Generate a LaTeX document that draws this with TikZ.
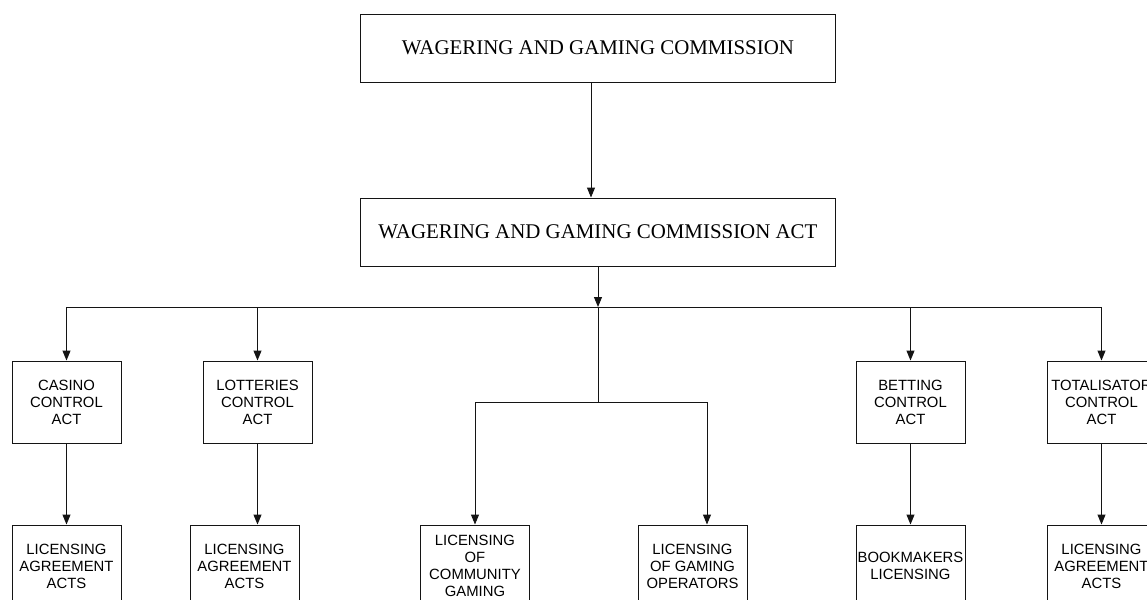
\documentclass[tikz,border=0pt]{standalone}
\usepackage{fontspec}
\setmainfont{Liberation Serif}
\newfontfamily\arialfont{Liberation Sans}
\usepackage{tikz}
\usetikzlibrary{arrows.meta, positioning, calc}
\definecolor{edge}{RGB}{20,20,20}
\tikzset{
  head/.style={rectangle, draw=edge, line width=0.55pt, fill=white,
               minimum width=9.52cm, minimum height=1.36cm, align=center,
               font=\fontsize{11.9}{14}\selectfont},
  act/.style={rectangle, draw=edge, line width=0.55pt, fill=white,
              minimum width=2.18cm, minimum height=1.64cm, inner sep=0pt, align=center,
              font=\arialfont\fontsize{8.45}{9.7}\selectfont},
  arr/.style={-{Triangle[length=0.2cm, width=0.16cm]}, line width=0.55pt, draw=edge},
  bus/.style={line width=0.55pt, draw=edge},
}

\begin{document}
\begin{tikzpicture}[x=0.02cm, y=-0.02cm]
\useasboundingbox (0,0) rectangle (1147,599);
\clip (0,0) rectangle (1147,599);

% Commission and act
\node[head] (comm) at (598,48) {WAGERING AND GAMING COMMISSION};
\node[head] (wgact) at (598,232) {WAGERING AND GAMING COMMISSION ACT};

% Control acts
\node[act] (casino) at (66.5,402) {CASINO\\ CONTROL\\ ACT};
\node[act] (lotto) at (257.5,402) {LOTTERIES\\ CONTROL\\ ACT};
\node[act] (betting) at (910.5,402) {BETTING\\ CONTROL\\ ACT};
\node[act] (tote) at (1101.5,402) {TOTALISATOR\\ CONTROL\\ ACT};

% Licensing
\node[act] (casinolic) at (66.5,566) {LICENSING\\ AGREEMENT\\ ACTS};
\node[act] (lottolic) at (244.5,566) {LICENSING\\ AGREEMENT\\ ACTS};
\node[act] (community) at (475,566) {LICENSING\\ OF\\ COMMUNITY\\ GAMING};
\node[act] (operators) at (692.5,566) {LICENSING\\ OF GAMING\\ OPERATORS};
\node[act] (bookies) at (910.5,566) {BOOKMAKERS\\ LICENSING};
\node[act] (totelic) at (1101.5,566) {LICENSING\\ AGREEMENT\\ ACTS};

\coordinate (split) at (598,307);
\coordinate (fork) at (598,402);

% Top of the tree
\draw[arr] ([xshift=-0.14cm]comm.south) -- ([xshift=-0.14cm]wgact.north);
\draw[arr] (wgact.south) -- (split);
\draw[arr] (split) -| (casino.north);
\draw[arr] (split) -| (lotto.north);
\draw[arr] (split) -| (betting.north);
\draw[arr] (split) -| (tote.north);

% Gaming branch
\draw[bus] (split) -- (fork);
\draw[arr] (fork) -| (community.north);
\draw[arr] (fork) -| ([xshift=0.29cm]operators.north);

% Acts down to licensing
\draw[arr] (casino.south) -- (casinolic.north);
\draw[arr] (lotto.south) -- (lotto.south |- lottolic.north);
\draw[arr] (betting.south) -- (bookies.north);
\draw[arr] (tote.south) -- (totelic.north);
\end{tikzpicture}
\end{document}
